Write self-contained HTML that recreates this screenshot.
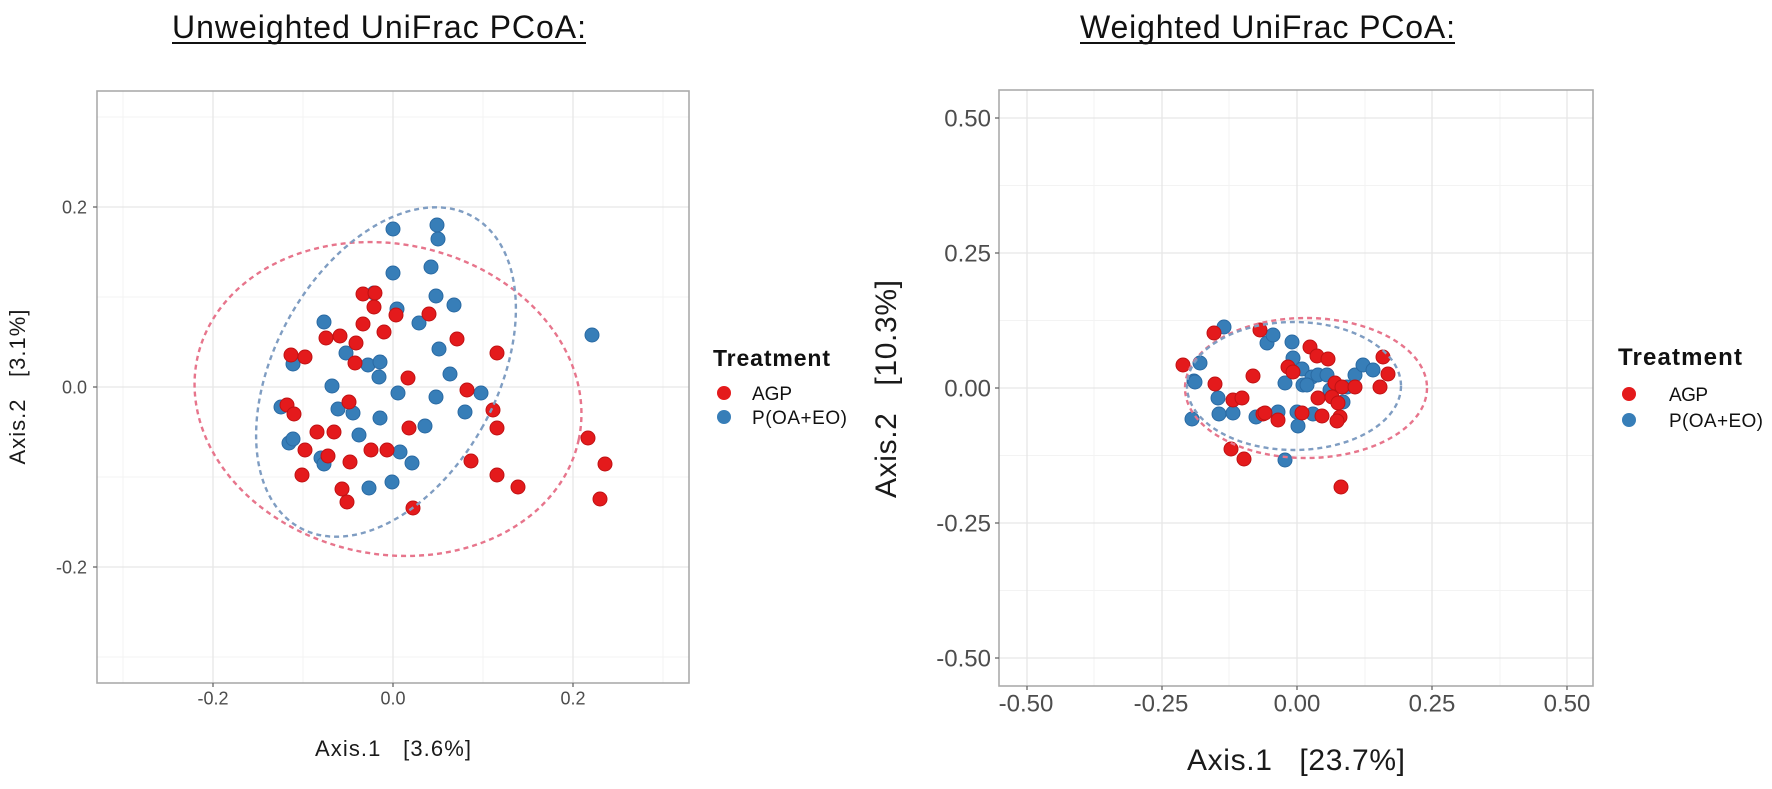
<!DOCTYPE html>
<html><head><meta charset="utf-8"><style>
html,body{margin:0;padding:0;background:#fff;}
svg{display:block;}
text{font-family:"Liberation Sans",Arial,sans-serif;}
</style></head><body>
<svg width="1772" height="789" viewBox="0 0 1772 789" xmlns="http://www.w3.org/2000/svg">
<rect width="1772" height="789" fill="#fff"/>

<!-- Titles -->
<text x="172" y="38" font-size="32" fill="#111" textLength="414">Unweighted UniFrac PCoA:</text>
<line x1="172" y1="43" x2="586" y2="43" stroke="#111" stroke-width="2"/>
<text x="1080" y="38" font-size="32" fill="#111" textLength="375">Weighted UniFrac PCoA:</text>
<line x1="1080" y1="43" x2="1455" y2="43" stroke="#111" stroke-width="2"/>

<!-- ============ LEFT PANEL ============ -->
<g>
<g stroke="#f3f3f3" stroke-width="1">
<line x1="123" y1="91" x2="123" y2="683"/><line x1="303" y1="91" x2="303" y2="683"/>
<line x1="483" y1="91" x2="483" y2="683"/><line x1="663" y1="91" x2="663" y2="683"/>
<line x1="97" y1="117" x2="689" y2="117"/><line x1="97" y1="297" x2="689" y2="297"/>
<line x1="97" y1="477" x2="689" y2="477"/><line x1="97" y1="657" x2="689" y2="657"/>
</g>
<g stroke="#e6e6e6" stroke-width="1.3">
<line x1="213" y1="91" x2="213" y2="683"/><line x1="393" y1="91" x2="393" y2="683"/><line x1="573" y1="91" x2="573" y2="683"/>
<line x1="97" y1="207" x2="689" y2="207"/><line x1="97" y1="387" x2="689" y2="387"/><line x1="97" y1="567" x2="689" y2="567"/>
</g>
<rect x="97" y="91" width="592" height="592" fill="none" stroke="#ababab" stroke-width="1.6"/>
<g stroke="#666" stroke-width="1.3">
<line x1="93" y1="207" x2="97" y2="207"/><line x1="93" y1="387" x2="97" y2="387"/><line x1="93" y1="567" x2="97" y2="567"/>
<line x1="213" y1="683" x2="213" y2="687"/><line x1="393" y1="683" x2="393" y2="687"/><line x1="573" y1="683" x2="573" y2="687"/>
</g>
<g font-size="18" fill="#4d4d4d">
<text x="87" y="213.5" text-anchor="end">0.2</text>
<text x="87" y="393.5" text-anchor="end">0.0</text>
<text x="87" y="573.5" text-anchor="end">-0.2</text>
<text x="213" y="704.5" text-anchor="middle">-0.2</text>
<text x="393" y="704.5" text-anchor="middle">0.0</text>
<text x="573" y="704.5" text-anchor="middle">0.2</text>
</g>
<text x="393" y="756" font-size="22" fill="#1a1a1a" text-anchor="middle" textLength="156" xml:space="preserve">Axis.1   [3.6%]</text>
<text transform="translate(25,387) rotate(-90)" font-size="22" fill="#1a1a1a" text-anchor="middle" textLength="155" xml:space="preserve">Axis.2   [3.1%]</text>

<g fill="#377eb8" stroke="#2a6aa3" stroke-width="1">
<circle cx="393" cy="229" r="7"/><circle cx="437" cy="225" r="7"/><circle cx="438" cy="239" r="7"/><circle cx="393" cy="273" r="7"/>
<circle cx="431" cy="267" r="7"/><circle cx="436" cy="296" r="7"/><circle cx="454" cy="305" r="7"/><circle cx="374" cy="293" r="7"/>
<circle cx="397" cy="309" r="7"/><circle cx="324" cy="322" r="7"/><circle cx="419" cy="323" r="7"/><circle cx="439" cy="349" r="7"/>
<circle cx="346" cy="353" r="7"/><circle cx="293" cy="364" r="7"/><circle cx="368" cy="365" r="7"/><circle cx="380" cy="362" r="7"/>
<circle cx="379" cy="377" r="7"/><circle cx="450" cy="374" r="7"/><circle cx="332" cy="386" r="7"/><circle cx="398" cy="393" r="7"/>
<circle cx="436" cy="397" r="7"/><circle cx="481" cy="393" r="7"/><circle cx="592" cy="335" r="7"/>
<circle cx="281" cy="407" r="7"/><circle cx="338" cy="409" r="7"/><circle cx="353" cy="413" r="7"/><circle cx="380" cy="418" r="7"/>
<circle cx="465" cy="412" r="7"/><circle cx="425" cy="426" r="7"/><circle cx="359" cy="435" r="7"/><circle cx="289" cy="443" r="7"/>
<circle cx="293" cy="439" r="7"/><circle cx="400" cy="452" r="7"/><circle cx="321" cy="458" r="7"/><circle cx="324" cy="464" r="7"/>
<circle cx="412" cy="463" r="7"/><circle cx="392" cy="482" r="7"/><circle cx="369" cy="488" r="7"/>
</g>
<g fill="#e41a1c" stroke="#c01214" stroke-width="1">
<circle cx="363" cy="294" r="7"/><circle cx="375" cy="293" r="7"/><circle cx="374" cy="307" r="7"/><circle cx="396" cy="315" r="7"/>
<circle cx="429" cy="314" r="7"/><circle cx="363" cy="324" r="7"/><circle cx="384" cy="332" r="7"/><circle cx="326" cy="338" r="7"/>
<circle cx="340" cy="336" r="7"/><circle cx="356" cy="343" r="7"/><circle cx="457" cy="339" r="7"/><circle cx="291" cy="355" r="7"/>
<circle cx="305" cy="357" r="7"/><circle cx="355" cy="363" r="7"/><circle cx="408" cy="378" r="7"/><circle cx="497" cy="353" r="7"/>
<circle cx="467" cy="390" r="7"/><circle cx="287" cy="405" r="7"/><circle cx="294" cy="414" r="7"/><circle cx="349" cy="402" r="7"/>
<circle cx="493" cy="410" r="7"/><circle cx="497" cy="428" r="7"/><circle cx="409" cy="428" r="7"/><circle cx="317" cy="432" r="7"/>
<circle cx="334" cy="432" r="7"/><circle cx="305" cy="450" r="7"/><circle cx="371" cy="450" r="7"/><circle cx="387" cy="450" r="7"/>
<circle cx="328" cy="456" r="7"/><circle cx="350" cy="462" r="7"/><circle cx="471" cy="461" r="7"/><circle cx="302" cy="475" r="7"/>
<circle cx="497" cy="475" r="7"/><circle cx="518" cy="487" r="7"/><circle cx="342" cy="489" r="7"/><circle cx="347" cy="502" r="7"/>
<circle cx="413" cy="508" r="7"/><circle cx="588" cy="438" r="7"/><circle cx="605" cy="464" r="7"/><circle cx="600" cy="499" r="7"/>
</g>
<ellipse cx="388" cy="399" rx="195" ry="155" transform="rotate(12 388 399)" fill="none" stroke="#e7758c" stroke-width="2.4" stroke-dasharray="5 4"/>
<ellipse cx="386" cy="372" rx="111" ry="178" transform="rotate(29 386 372)" fill="none" stroke="#7f9dc2" stroke-width="2.4" stroke-dasharray="5 4"/>

<text x="713" y="366" font-size="23" font-weight="bold" fill="#111" textLength="117">Treatment</text>
<circle cx="724" cy="393" r="7" fill="#e41a1c"/>
<circle cx="724" cy="417" r="7" fill="#377eb8"/>
<text x="752" y="400" font-size="19" fill="#111" textLength="40">AGP</text>
<text x="752" y="424" font-size="19" fill="#111" textLength="95">P(OA+EO)</text>
</g>

<!-- ============ RIGHT PANEL ============ -->
<g>
<g stroke="#f3f3f3" stroke-width="1">
<line x1="1094" y1="90" x2="1094" y2="686"/><line x1="1229" y1="90" x2="1229" y2="686"/>
<line x1="1365" y1="90" x2="1365" y2="686"/><line x1="1500" y1="90" x2="1500" y2="686"/>
<line x1="999" y1="185.5" x2="1593" y2="185.5"/><line x1="999" y1="320.5" x2="1593" y2="320.5"/>
<line x1="999" y1="455.5" x2="1593" y2="455.5"/><line x1="999" y1="590.5" x2="1593" y2="590.5"/>
</g>
<g stroke="#e6e6e6" stroke-width="1.3">
<line x1="1027" y1="90" x2="1027" y2="686"/><line x1="1162" y1="90" x2="1162" y2="686"/><line x1="1297" y1="90" x2="1297" y2="686"/>
<line x1="1432" y1="90" x2="1432" y2="686"/><line x1="1567" y1="90" x2="1567" y2="686"/>
<line x1="999" y1="118" x2="1593" y2="118"/><line x1="999" y1="253" x2="1593" y2="253"/><line x1="999" y1="388" x2="1593" y2="388"/>
<line x1="999" y1="523" x2="1593" y2="523"/><line x1="999" y1="658" x2="1593" y2="658"/>
</g>
<rect x="999" y="90" width="594" height="596" fill="none" stroke="#ababab" stroke-width="1.6"/>
<g stroke="#666" stroke-width="1.3">
<line x1="995" y1="118" x2="999" y2="118"/><line x1="995" y1="253" x2="999" y2="253"/><line x1="995" y1="388" x2="999" y2="388"/>
<line x1="995" y1="523" x2="999" y2="523"/><line x1="995" y1="658" x2="999" y2="658"/>
<line x1="1027" y1="686" x2="1027" y2="690"/><line x1="1162" y1="686" x2="1162" y2="690"/><line x1="1297" y1="686" x2="1297" y2="690"/>
<line x1="1432" y1="686" x2="1432" y2="690"/><line x1="1567" y1="686" x2="1567" y2="690"/>
</g>
<g font-size="24" fill="#4d4d4d">
<text x="991" y="126.5" text-anchor="end">0.50</text>
<text x="991" y="261.5" text-anchor="end">0.25</text>
<text x="991" y="396.5" text-anchor="end">0.00</text>
<text x="991" y="531.5" text-anchor="end">-0.25</text>
<text x="991" y="666.5" text-anchor="end">-0.50</text>
<text x="1026" y="711.5" text-anchor="middle">-0.50</text>
<text x="1161" y="711.5" text-anchor="middle">-0.25</text>
<text x="1297" y="711.5" text-anchor="middle">0.00</text>
<text x="1432" y="711.5" text-anchor="middle">0.25</text>
<text x="1567" y="711.5" text-anchor="middle">0.50</text>
</g>
<text x="1296" y="770" font-size="30" fill="#1a1a1a" text-anchor="middle" textLength="218" xml:space="preserve">Axis.1   [23.7%]</text>
<text transform="translate(896,389) rotate(-90)" font-size="30" fill="#1a1a1a" text-anchor="middle" textLength="218" xml:space="preserve">Axis.2   [10.3%]</text>

<g fill="#377eb8" stroke="#2a6aa3" stroke-width="1">
<circle cx="1224" cy="327" r="7"/><circle cx="1267" cy="343" r="7"/><circle cx="1200" cy="363" r="7"/><circle cx="1194" cy="381" r="7"/>
<circle cx="1218" cy="398" r="7"/><circle cx="1219" cy="414" r="7"/><circle cx="1233" cy="413" r="7"/><circle cx="1192" cy="419" r="7"/>
<circle cx="1256" cy="417" r="7"/><circle cx="1273" cy="335" r="7"/><circle cx="1292" cy="342" r="7"/><circle cx="1293" cy="358" r="7"/>
<circle cx="1302" cy="369" r="7"/><circle cx="1285" cy="383" r="7"/><circle cx="1303" cy="385" r="7"/><circle cx="1312" cy="377" r="7"/>
<circle cx="1318" cy="375" r="7"/><circle cx="1327" cy="375" r="7"/><circle cx="1330" cy="390" r="7"/><circle cx="1347" cy="387" r="7"/>
<circle cx="1355" cy="375" r="7"/><circle cx="1363" cy="365" r="7"/><circle cx="1373" cy="370" r="7"/><circle cx="1278" cy="412" r="7"/>
<circle cx="1297" cy="412" r="7"/><circle cx="1298" cy="426" r="7"/><circle cx="1313" cy="414" r="7"/><circle cx="1343" cy="402" r="7"/>
<circle cx="1285" cy="460" r="7"/><circle cx="1307" cy="385" r="7"/><circle cx="1195" cy="382" r="7"/>
</g>
<g fill="#e41a1c" stroke="#c01214" stroke-width="1">
<circle cx="1214" cy="333" r="7"/><circle cx="1260" cy="330" r="7"/><circle cx="1183" cy="365" r="7"/><circle cx="1253" cy="376" r="7"/>
<circle cx="1215" cy="384" r="7"/><circle cx="1233" cy="400" r="7"/><circle cx="1242" cy="398" r="7"/><circle cx="1263" cy="414" r="7"/>
<circle cx="1231" cy="449" r="7"/><circle cx="1244" cy="459" r="7"/><circle cx="1310" cy="347" r="7"/><circle cx="1317" cy="356" r="7"/>
<circle cx="1328" cy="359" r="7"/><circle cx="1288" cy="367" r="7"/><circle cx="1293" cy="372" r="7"/><circle cx="1383" cy="357" r="7"/>
<circle cx="1388" cy="374" r="7"/><circle cx="1380" cy="387" r="7"/><circle cx="1335" cy="383" r="7"/><circle cx="1342" cy="387" r="7"/>
<circle cx="1355" cy="387" r="7"/><circle cx="1318" cy="398" r="7"/><circle cx="1332" cy="397" r="7"/><circle cx="1338" cy="403" r="7"/>
<circle cx="1340" cy="417" r="7"/><circle cx="1322" cy="416" r="7"/><circle cx="1337" cy="421" r="7"/><circle cx="1265" cy="413" r="7"/>
<circle cx="1278" cy="420" r="7"/><circle cx="1302" cy="413" r="7"/><circle cx="1341" cy="487" r="7"/>
</g>
<ellipse cx="1306" cy="388" rx="121" ry="70" fill="none" stroke="#e7758c" stroke-width="2.4" stroke-dasharray="5 4"/>
<ellipse cx="1294" cy="386" rx="107" ry="64" fill="none" stroke="#7f9dc2" stroke-width="2.4" stroke-dasharray="5 4"/>

<text x="1618" y="365" font-size="24" font-weight="bold" fill="#111" textLength="124">Treatment</text>
<circle cx="1629" cy="394" r="7" fill="#e41a1c"/>
<circle cx="1629" cy="420" r="7" fill="#377eb8"/>
<text x="1669" y="401" font-size="19" fill="#111" textLength="39">AGP</text>
<text x="1669" y="427" font-size="19" fill="#111" textLength="94">P(OA+EO)</text>
</g>
</svg>
</body></html>
